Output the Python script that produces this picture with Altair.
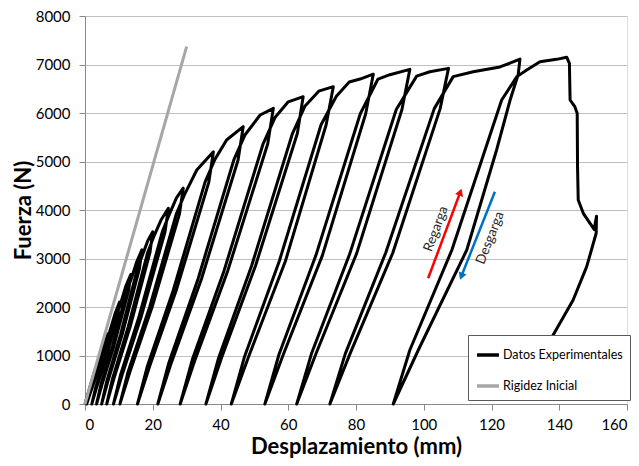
import altair as alt
import pandas as pd

# ---- Datos experimentales (desplazamiento mm, fuerza N), en orden de ensayo ----
disp_mm = [
    0, 2.5, 5.4, 6.8,
    6.42, 3.71, 1.51, 0.5, 1.32, 3.46, 6.11, 6.93,
    8.9, 10.2,
    9.71, 6.18, 3.31, 2.0, 3.07, 5.85, 9.3, 10.36,
    12.0, 13.5,
    12.89, 8.55, 5.02, 3.4, 4.71, 8.15, 12.39, 13.7,
    15.2, 16.8,
    16.09, 10.97, 6.8, 4.9, 6.45, 10.49, 15.49, 17.04,
    18.5, 20.0,
    19.18, 13.34, 8.58, 6.4, 8.17, 12.79, 18.5, 20.27,
    22.5, 24.6,
    23.63, 16.66, 10.99, 8.4, 10.51, 16.01, 22.82, 24.92,
    27.0, 29.0,
    27.88, 19.84, 13.29, 10.3, 12.73, 19.09, 26.94, 29.37,
    33.0, 37.9,
    36.56, 26.92, 19.08, 15.5, 18.41, 26.03, 35.44, 38.35,
    41.8, 46.7,
    45.19, 34.35, 25.53, 21.5, 24.78, 33.34, 43.93, 47.2,
    51.7, 55.6,
    53.95, 42.13, 32.5, 28.1, 31.68, 41.03, 52.58, 56.15,
    60.0, 64.4,
    62.68, 50.34, 40.29, 35.7, 39.43, 49.19, 61.24, 64.97,
    69.0, 73.3,
    71.19, 59.15, 48.32, 43.2, 47.11, 57.35, 69.69, 74.2,
    78.0, 81.2, 85.1,
    82.86, 70.06, 58.54, 53.1, 57.26, 68.14, 81.26, 86.5,
    90.0, 95.9,
    93.56, 80.2, 68.18, 62.5, 66.84, 78.2, 91.89, 97.9,
    101.8, 107.3,
    104.85, 90.85, 78.25, 72.3, 76.85, 88.75, 103.1, 108.7,
    114.6, 122.5, 128.4,
    127.9, 125.5, 121.5, 112.7, 98.4, 91.0, 95.9, 108.3, 118.1, 123.0, 127.5, 130.4,
    134.3, 139.2, 142.2,
    143.0, 143.2, 144.6, 145.3, 145.4, 145.6, 147.1, 149.1, 150.3, 151.0, 150.9,
    148.1, 144.1, 138.2, 136.5,
]
fuerza_n = [
    0, 600, 1180, 1450,
    1276, 653, 218, 0, 218, 653, 1276, 1407,
    1870, 2100,
    1848, 945, 315, 0, 315, 945, 1848, 2037,
    2420, 2670,
    2350, 1202, 401, 0, 401, 1202, 2350, 2590,
    2920, 3180,
    2798, 1431, 477, 0, 477, 1431, 2798, 3085,
    3360, 3550,
    3124, 1598, 533, 0, 533, 1598, 3124, 3444,
    3800, 4035,
    3551, 1816, 605, 0, 605, 1816, 3551, 3914,
    4250, 4450,
    3916, 2003, 668, 0, 668, 2003, 3916, 4317,
    4825, 5200,
    4576, 2340, 780, 0, 780, 2340, 4576, 5044,
    5443, 5718,
    5032, 2573, 858, 0, 858, 2573, 5032, 5546,
    5959, 6097,
    5365, 2744, 915, 0, 915, 2744, 5365, 5914,
    6230, 6336,
    5576, 2851, 950, 0, 950, 2851, 5576, 6146,
    6450, 6543,
    5758, 2944, 981, 0, 981, 2944, 5758, 6347,
    6640, 6700, 6800,
    5984, 3060, 1020, 0, 1020, 3060, 5984, 6700,
    6790, 6900,
    6072, 3105, 1035, 0, 1035, 3105, 6072, 6760,
    6850, 6920,
    6090, 3114, 1038, 0, 1038, 3114, 6090, 6750,
    6850, 6950, 7110,
    6800, 6268, 5237, 3175, 1113, 0, 1113, 3175, 5237, 6268, 6750, 6887,
    7058, 7106, 7150,
    7024, 6268, 6130, 5994, 4894, 4206, 3932, 3725, 3600, 3870, 3520,
    2832, 2144, 1423, 1200,
]

# ---- Rigidez inicial ----
rig_disp = [0.0, 30.0]
rig_fuerza = [0, 7370]

series = ["Datos Experimentales", "Rigidez Inicial"]
series_colors = ["#000000", "#A6A6A6"]
x_ticks = [0, 20, 40, 60, 80, 100, 120, 140, 160]
y_ticks = [0, 1000, 2000, 3000, 4000, 5000, 6000, 7000, 8000]

# ---- Flechas y textos (coordenadas de datos) ----
arrow_x = [101.3, 121.0]
arrow_y = [2592, 4377]
arrow_x2 = [110.8, 111.1]
arrow_y2 = [4370, 2633]
arrow_color = ["#FF0000", "#0070C0"]
arrow_head_angle = [20.4, 201.6]
label_text = ["Regarga", "Desgarga"]
label_x = [103.6, 119.6]
label_y = [3608, 3423]
label_angle = [290.4, 291.6]

FONT = "Lato"

exp_df = pd.DataFrame({"x": disp_mm, "y": fuerza_n})
exp_df["serie"] = series[0]
exp_df["ord"] = range(len(exp_df))
rig_df = pd.DataFrame({"x": rig_disp, "y": rig_fuerza})
rig_df["serie"] = series[1]
rig_df["ord"] = range(len(rig_df))

arrows_df = pd.DataFrame({"x": arrow_x, "y": arrow_y, "x2": arrow_x2, "y2": arrow_y2,
                          "c": arrow_color, "ang": arrow_head_angle})
labels_df = pd.DataFrame({"t": label_text, "x": label_x, "y": label_y, "ang": label_angle})

xscale = alt.Scale(domain=[0, 160], nice=False, zero=False)
yscale = alt.Scale(domain=[0, 8000], nice=False)

xaxis = alt.Axis(values=x_ticks, format="d", grid=False, domainColor="#898989",
                 tickColor="#898989", tickSize=6, labelFont=FONT, labelFontSize=15,
                 labelColor="#000000", labelPadding=7, title="Desplazamiento  (mm)",
                 titleFont=FONT, titleFontSize=22, titleFontWeight="bold",
                 titleColor="#000000", titleY=42, titleBaseline="middle")
yaxis = alt.Axis(values=y_ticks, format="d", grid=True, gridColor="#C0C0C0",
                 domainColor="#898989", tickColor="#898989", tickSize=6, labelFont=FONT,
                 labelFontSize=15, labelColor="#000000", labelPadding=9,
                 title="Fuerza  (N)", titleFont=FONT, titleFontSize=22,
                 titleFontWeight="bold", titleColor="#000000", titleX=-62, titleY=194,
                 titleAngle=270, titleAlign="center", titleBaseline="middle")

color = alt.Color("serie:N", scale=alt.Scale(domain=series, range=series_colors),
                  legend=alt.Legend(title=None, orient="none", legendX=383, legendY=319,
                                    fillColor="white", strokeColor="#595959", padding=7,
                                    symbolType="stroke", symbolSize=484,
                                    symbolStrokeWidth=3.5, labelFont=FONT,
                                    labelFontSize=12.5, labelColor="#000000",
                                    rowPadding=11, labelOffset=2, direction="vertical"))

exp_line = alt.Chart(exp_df).mark_line(strokeWidth=3, strokeJoin="round").encode(
    x=alt.X("x:Q", scale=xscale, axis=xaxis),
    y=alt.Y("y:Q", scale=yscale, axis=yaxis),
    color=color,
    order="ord:Q",
)
rig_line = alt.Chart(rig_df).mark_line(strokeWidth=3).encode(
    x=alt.X("x:Q", scale=xscale),
    y=alt.Y("y:Q", scale=yscale),
    color=color,
    order="ord:Q",
)
arrow_rules = alt.Chart(arrows_df).mark_rule(strokeWidth=2.5).encode(
    x="x:Q", y="y:Q", x2="x2:Q", y2="y2:Q",
    color=alt.Color("c:N", scale=None),
)
arrow_heads = alt.Chart(arrows_df).mark_point(shape="triangle-up", filled=True, size=70,
                                              opacity=1).encode(
    x="x2:Q", y="y2:Q",
    color=alt.Color("c:N", scale=None),
    angle=alt.Angle("ang:Q", scale=None),
)
labels = alt.Chart(labels_df).mark_text(font=FONT, fontSize=13.5, color="#262626",
                                        align="center", baseline="middle").encode(
    x="x:Q", y="y:Q", text="t:N",
    angle=alt.Angle("ang:Q", scale=None),
)

chart = alt.layer(exp_line, rig_line, arrow_rules, arrow_heads, labels).properties(
    width=542, height=388,
    autosize=alt.AutoSizeParams(type="none"),
    padding={"left": 77, "top": 8, "right": 4, "bottom": 60},
).configure_view(stroke="#898989", strokeWidth=1).configure(background="white")

chart.save("out.html", embed_options={"renderer": "svg", "actions": False})
